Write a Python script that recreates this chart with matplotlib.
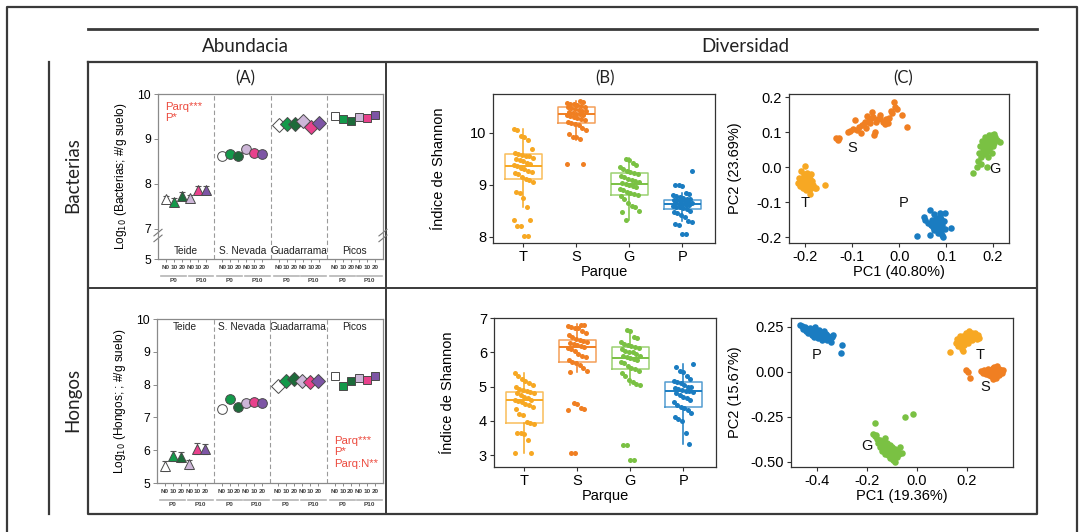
import matplotlib
matplotlib.use('Agg')
import matplotlib.pyplot as plt
import matplotlib.transforms as mtransforms

plt.rcParams['font.family'] = ['Liberation Sans', 'DejaVu Sans']

# ---------------- DATA ----------------
sites = ['Teide', 'S. Nevada', 'Guadarrama', 'Picos']
treat_labels = ['N0', '10', '20', 'N0', '10', '20']
p_labels = ['P0', 'P10']
treat_colors = ['#ffffff', '#139a4a', '#1d6b3a', '#cdb6d8', '#e8418c', '#7d55a5']
site_markers = ['^', 'o', 'D', 's']

bact_teide = [7.66, 7.60, 7.74, 7.68, 7.86, 7.87]
bact_snev = [8.63, 8.66, 8.62, 8.77, 8.68, 8.67]
bact_guad = [9.32, 9.34, 9.34, 9.40, 9.27, 9.35]
bact_picos = [9.51, 9.44, 9.41, 9.49, 9.47, 9.53]
bact_teide_err = [0.08, 0.08, 0.07, 0.07, 0.09, 0.09]

hong_teide = [5.51, 5.83, 5.78, 5.57, 6.05, 6.03]
hong_snev = [7.26, 7.56, 7.31, 7.43, 7.47, 7.43]
hong_guad = [7.97, 8.11, 8.16, 8.11, 8.08, 8.11]
hong_picos = [8.26, 7.97, 8.10, 8.19, 8.15, 8.26]
hong_teide_err = [0.15, 0.15, 0.15, 0.13, 0.16, 0.16]

parques = ['T', 'S', 'G', 'P']
parque_colors = ['#f7a823', '#f07f22', '#7ac143', '#1a7cc1']

# Shannon (bacteria)
sh_b_T = [10.07, 10.06, 9.95, 9.93, 9.87, 9.70, 9.62, 9.60, 9.58, 9.56, 9.55, 9.52, 9.50, 9.48, 9.45,
          9.42, 9.40, 9.38, 9.36, 9.33, 9.30, 9.27, 9.25, 9.22, 9.20, 9.15, 9.12, 9.10, 9.05, 8.87,
          8.85, 8.74, 8.58, 8.33, 8.32, 8.20, 8.20, 8.02, 8.01]
sh_b_S = [10.62, 10.60, 10.58, 10.56, 10.55, 10.53, 10.52, 10.50, 10.49, 10.48, 10.46, 10.45, 10.43,
          10.42, 10.40, 10.38, 10.37, 10.36, 10.35, 10.34, 10.32, 10.30, 10.28, 10.26, 10.25, 10.22,
          10.20, 10.18, 10.15, 10.10, 10.05, 9.98, 9.93, 9.92, 9.88, 9.41, 9.41]
sh_b_G = [9.50, 9.47, 9.42, 9.38, 9.35, 9.30, 9.27, 9.25, 9.22, 9.20, 9.18, 9.15, 9.12, 9.10, 9.07,
          9.05, 9.03, 9.01, 9.00, 8.98, 8.95, 8.92, 8.90, 8.87, 8.85, 8.82, 8.80, 8.78, 8.72, 8.65,
          8.60, 8.57, 8.50, 8.47, 8.33]
sh_b_P = [9.27, 9.00, 8.99, 8.98, 8.85, 8.82, 8.80, 8.78, 8.76, 8.75, 8.73, 8.72, 8.71, 8.70, 8.69,
          8.68, 8.67, 8.66, 8.65, 8.64, 8.63, 8.62, 8.61, 8.60, 8.58, 8.57, 8.55, 8.53, 8.50, 8.47,
          8.45, 8.42, 8.38, 8.30, 8.28, 8.25, 8.22, 8.05, 8.05]
# box stats: q1, median, q3, whisker low, whisker high
box_b_q1 = [9.11, 10.20, 8.81, 8.53]
box_b_med = [9.37, 10.37, 9.01, 8.63]
box_b_q3 = [9.59, 10.49, 9.22, 8.71]
box_b_lo = [8.58, 9.87, 8.32, 8.30]
box_b_hi = [10.07, 10.62, 9.52, 8.85]

# Shannon (fungi)
sh_h_T = [5.38, 5.30, 5.22, 5.15, 5.10, 5.05, 4.98, 4.92, 4.90, 4.88, 4.85, 4.82, 4.80, 4.75, 4.70,
          4.65, 4.62, 4.60, 4.58, 4.55, 4.50, 4.45, 4.40, 4.35, 4.20, 4.18, 3.95, 3.92, 3.90, 3.65,
          3.63, 3.60, 3.45, 3.05, 3.05]
sh_h_S = [6.80, 6.80, 6.78, 6.75, 6.72, 6.70, 6.62, 6.55, 6.50, 6.45, 6.38, 6.35, 6.32, 6.30, 6.28,
          6.25, 6.20, 6.18, 6.15, 6.12, 6.10, 6.05, 5.95, 5.90, 5.85, 5.78, 5.72, 5.70, 5.62, 5.55,
          5.45, 5.42, 4.52, 4.50, 4.38, 4.33, 4.30, 3.06, 3.06]
sh_h_G = [6.65, 6.62, 6.45, 6.42, 6.30, 6.25, 6.22, 6.18, 6.15, 6.12, 6.10, 6.05, 6.02, 6.00, 5.95,
          5.90, 5.88, 5.85, 5.83, 5.80, 5.78, 5.72, 5.68, 5.60, 5.55, 5.50, 5.45, 5.40, 5.30, 5.20,
          5.12, 5.08, 5.05, 3.30, 3.30, 2.84, 2.84]
sh_h_P = [5.65, 5.58, 5.45, 5.42, 5.30, 5.22, 5.15, 5.12, 5.10, 5.05, 5.00, 4.98, 4.95, 4.92, 4.90,
          4.88, 4.86, 4.84, 4.80, 4.75, 4.70, 4.65, 4.60, 4.55, 4.45, 4.40, 4.38, 4.30, 4.22, 4.10,
          4.05, 4.00, 3.65, 3.33]
box_h_q1 = [3.94, 5.72, 5.52, 4.40]
box_h_med = [4.62, 6.15, 5.83, 4.86]
box_h_q3 = [4.85, 6.37, 6.14, 5.14]
box_h_lo = [3.06, 5.42, 5.05, 3.33]
box_h_hi = [5.38, 6.82, 6.63, 5.65]

# PCA (bacteria)
pcb_T_x = [-0.215, -0.213, -0.212, -0.210, -0.209, -0.207, -0.206, -0.205, -0.204, -0.203, -0.202,
           -0.201, -0.200, -0.200, -0.199, -0.198, -0.197, -0.196, -0.195, -0.194, -0.193, -0.192,
           -0.191, -0.190, -0.189, -0.188, -0.186, -0.185, -0.183, -0.180, -0.178, -0.190, -0.158]
pcb_T_y = [-0.045, -0.030, -0.055, -0.040, -0.012, -0.050, -0.035, -0.060, -0.025, -0.045, -0.020,
           -0.052, 0.003, -0.038, -0.065, -0.030, -0.048, -0.015, -0.042, -0.058, -0.025, -0.050,
           -0.035, -0.062, -0.045, -0.020, -0.055, -0.040, -0.050, -0.060, -0.058, -0.076, -0.050]
pcb_S_x = [-0.134, -0.130, -0.128, -0.110, -0.105, -0.098, -0.095, -0.090, -0.086, -0.082, -0.080,
           -0.076, -0.072, -0.070, -0.068, -0.065, -0.062, -0.060, -0.058, -0.055, -0.053, -0.052,
           -0.050, -0.046, -0.042, -0.040, -0.035, -0.030, -0.028, -0.025, -0.022, -0.018, -0.015,
           -0.012, -0.008, -0.005, 0.006, 0.016]
pcb_S_y = [0.083, 0.078, 0.085, 0.100, 0.103, 0.110, 0.136, 0.108, 0.115, 0.098, 0.120, 0.125, 0.130,
           0.112, 0.148, 0.135, 0.128, 0.140, 0.158, 0.145, 0.092, 0.100, 0.130, 0.138, 0.142, 0.150,
           0.130, 0.125, 0.138, 0.128, 0.140, 0.162, 0.155, 0.188, 0.172, 0.168, 0.150, 0.116]
pcb_G_x = [0.158, 0.165, 0.168, 0.170, 0.172, 0.174, 0.176, 0.178, 0.180, 0.181, 0.183, 0.184, 0.186,
           0.187, 0.188, 0.189, 0.190, 0.191, 0.192, 0.193, 0.194, 0.195, 0.196, 0.197, 0.198, 0.199,
           0.200, 0.201, 0.202, 0.203, 0.205, 0.208, 0.215, 0.187, 0.175]
pcb_G_y = [-0.017, 0.000, 0.018, 0.040, 0.060, 0.030, 0.075, 0.050, 0.038, 0.065, 0.088, 0.045, 0.070,
           0.055, 0.080, 0.030, 0.062, 0.092, 0.048, 0.075, 0.058, 0.085, 0.068, 0.040, 0.092, 0.078,
           0.060, 0.095, 0.082, 0.070, 0.088, 0.078, 0.072, 0.000, 0.008]
pcb_P_x = [0.037, 0.052, 0.055, 0.062, 0.065, 0.066, 0.068, 0.070, 0.072, 0.074, 0.075, 0.076, 0.078,
           0.079, 0.080, 0.081, 0.082, 0.083, 0.084, 0.085, 0.086, 0.087, 0.088, 0.089, 0.090, 0.091,
           0.092, 0.093, 0.095, 0.097, 0.098, 0.110, 0.087]
pcb_P_y = [-0.197, -0.143, -0.150, -0.160, -0.122, -0.195, -0.165, -0.150, -0.170, -0.135, -0.180,
           -0.158, -0.165, -0.145, -0.172, -0.155, -0.188, -0.162, -0.150, -0.175, -0.140, -0.168,
           -0.158, -0.182, -0.148, -0.195, -0.165, -0.200, -0.155, -0.130, -0.178, -0.173, -0.130]

# PCA (fungi)
pch_P_x = [-0.470, -0.462, -0.455, -0.450, -0.445, -0.440, -0.435, -0.430, -0.425, -0.420, -0.415,
           -0.412, -0.408, -0.405, -0.400, -0.398, -0.395, -0.392, -0.388, -0.385, -0.380, -0.375,
           -0.372, -0.368, -0.365, -0.360, -0.355, -0.350, -0.345, -0.340, -0.335, -0.300, -0.305]
pch_P_y = [0.262, 0.255, 0.240, 0.250, 0.225, 0.238, 0.215, 0.245, 0.228, 0.205, 0.232, 0.195, 0.252,
           0.218, 0.225, 0.188, 0.208, 0.232, 0.198, 0.215, 0.180, 0.205, 0.225, 0.190, 0.210, 0.178,
           0.198, 0.185, 0.168, 0.195, 0.205, 0.150, 0.105]
pch_T_x = [0.133, 0.155, 0.160, 0.165, 0.168, 0.172, 0.175, 0.178, 0.180, 0.182, 0.185, 0.188, 0.190,
           0.193, 0.196, 0.198, 0.200, 0.203, 0.206, 0.208, 0.210, 0.213, 0.216, 0.219, 0.222, 0.225,
           0.228, 0.232, 0.236, 0.240, 0.245, 0.250, 0.185]
pch_T_y = [0.113, 0.160, 0.185, 0.145, 0.170, 0.198, 0.155, 0.180, 0.125, 0.165, 0.200, 0.175, 0.150,
           0.190, 0.168, 0.215, 0.182, 0.195, 0.160, 0.205, 0.225, 0.185, 0.198, 0.215, 0.178, 0.205,
           0.192, 0.218, 0.200, 0.185, 0.205, 0.190, 0.118]
pch_S_x = [0.197, 0.205, 0.212, 0.258, 0.265, 0.270, 0.275, 0.280, 0.285, 0.288, 0.292, 0.295, 0.298,
           0.300, 0.303, 0.306, 0.308, 0.310, 0.312, 0.315, 0.318, 0.320, 0.322, 0.325, 0.328, 0.330,
           0.333, 0.336, 0.340, 0.345, 0.305, 0.318]
pch_S_y = [0.012, -0.002, -0.032, 0.005, -0.005, 0.010, -0.010, 0.002, 0.015, -0.015, 0.005, -0.025,
           0.012, -0.005, 0.020, -0.012, 0.008, 0.025, -0.020, 0.000, 0.015, -0.008, 0.030, 0.005,
           -0.015, 0.018, 0.000, 0.010, -0.005, 0.008, -0.040, -0.035]
pch_G_x = [-0.168, -0.175, -0.170, -0.165, -0.160, -0.155, -0.150, -0.148, -0.145, -0.140, -0.138,
           -0.135, -0.130, -0.128, -0.125, -0.122, -0.120, -0.118, -0.115, -0.112, -0.110, -0.108,
           -0.105, -0.102, -0.100, -0.098, -0.095, -0.092, -0.090, -0.088, -0.085, -0.080, -0.075,
           -0.072, -0.068, -0.062, -0.048, -0.017]
pch_G_y = [-0.285, -0.345, -0.360, -0.350, -0.375, -0.395, -0.380, -0.420, -0.405, -0.440, -0.390,
           -0.425, -0.455, -0.370, -0.410, -0.440, -0.395, -0.465, -0.425, -0.450, -0.480, -0.405,
           -0.435, -0.460, -0.420, -0.490, -0.445, -0.470, -0.500, -0.430, -0.455, -0.475, -0.440,
           -0.460, -0.420, -0.450, -0.253, -0.235]

# ---------------- FIGURE ----------------
W, H = 1080, 532
fig = plt.figure(figsize=(10.8, 5.32), dpi=100)


def ax_px(l, t, r, b):
    return fig.add_axes([l / W, 1 - b / H, (r - l) / W, (b - t) / H])


# overlay for frame lines
ov = fig.add_axes([0, 0, 1, 1], zorder=-1)
ov.set_xlim(0, W)
ov.set_ylim(H, 0)
ov.axis('off')
lc = '#3a3a3a'
ov.plot([7, 7, 1077, 1077], [532, 7, 7, 532], color=lc, lw=1.6)
ov.plot([88, 1037], [29, 29], color=lc, lw=2.0)
ov.plot([88, 1037, 1037, 88, 88], [62, 62, 514, 514, 62], color=lc, lw=1.6)
ov.plot([386, 386], [62, 514], color=lc, lw=1.4)
ov.plot([88, 1037], [288, 288], color=lc, lw=1.4)
ov.plot([49, 49], [62, 514], color=lc, lw=1.6)

head_font = ['Lato', 'DejaVu Sans']
fig.text(245 / W, 1 - 46 / H, 'Abundacia', ha='center', va='center', fontsize=13.5,
         family=head_font, color='#222222')
fig.text(745 / W, 1 - 46 / H, 'Diversidad', ha='center', va='center', fontsize=13.5,
         family=head_font, color='#222222')
fig.text(73 / W, 1 - 175 / H, 'Bacterias', ha='center', va='center', fontsize=13.5,
         rotation=90, family=head_font, color='#222222')
fig.text(73 / W, 1 - 400 / H, 'Hongos', ha='center', va='center', fontsize=13.5,
         rotation=90, family=head_font, color='#222222')
for lbl, xc in [('(A)', 245), ('(B)', 605), ('(C)', 903)]:
    fig.text(xc / W, 1 - 78 / H, lbl, ha='center', va='center', fontsize=12,
             family=head_font, color='#222222')

red = '#ec4b3f'
grey_sp = '#8a8a8a'


def offset(ax, dy_px):
    return ax.get_xaxis_transform() + mtransforms.ScaledTranslation(0, -dy_px / 100.0,
                                                                    fig.dpi_scale_trans)


def abundance_panel(ax, vals, err, ylabel, ylim, yticks, yticklabels, site_label_y,
                    site_va, red_text, red_xy, red_ha, broken):
    xs_all = []
    for i in range(4):
        for j in range(6):
            x = 7 * i + 1 + j
            xs_all.append(x)
            e = err[i][j]
            if e > 0:
                ax.errorbar(x, vals[i][j], yerr=e, fmt='none', ecolor='#555555',
                            elinewidth=0.8, capsize=2.2, capthick=0.8, zorder=2)
            ms = 6.8 if site_markers[i] in ('^', 'D') else 7
            if site_markers[i] == 's':
                ms = 6.3
            ax.plot(x, vals[i][j], marker=site_markers[i], ms=ms, mfc=treat_colors[j],
                    mec='#4a4a4a', mew=0.7, ls='none', zorder=3)
    for xd in [7, 14, 21]:
        ax.axvline(xd, color='#9a9a9a', lw=0.8, ls=(0, (4, 2.5)), zorder=1)
    ax.set_xlim(0, 28)
    ax.set_ylim(*ylim)
    ax.set_yticks(yticks)
    ax.set_yticklabels(yticklabels, fontsize=8.8)
    ax.set_xticks(xs_all)
    ax.set_xticklabels(treat_labels * 4, fontsize=4.6, color='#444444', fontweight='bold')
    ax.tick_params(axis='x', length=2, width=0.6, pad=2, color='#777777')
    ax.tick_params(axis='y', length=3, width=0.6, pad=2, color='#777777')
    for s in ax.spines.values():
        s.set_color(grey_sp)
        s.set_linewidth(0.9)
    ax.set_ylabel(ylabel, fontsize=8.6, labelpad=6)
    for i in range(4):
        ax.text(7 * i + 3.5, site_label_y, sites[i], transform=ax.get_xaxis_transform(),
                ha='center', va=site_va, fontsize=7.3, color='#222222')
        for k in range(2):
            x0 = 7 * i + 0.4 + 3.4 * k
            ax.plot([x0, x0 + 3.1], [0, 0], transform=offset(ax, 16.5), color='#b5b5b5',
                    lw=1.2, clip_on=False)
            ax.text(x0 + 1.55, 0, p_labels[k], transform=offset(ax, 18.5), ha='center',
                    va='top', fontsize=4.6, color='#444444', fontweight='bold')
    ax.text(red_xy[0], red_xy[1], red_text, transform=ax.transAxes, ha=red_ha, va='top',
            fontsize=8.2, color=red, linespacing=1.15)
    if broken:
        for xa in (0, 1):
            for dy in (0.0, 0.035):
                ax.plot([xa - 0.018, xa + 0.018], [0.105 + dy, 0.145 + dy],
                        transform=ax.transAxes, color='#777777', lw=0.8, clip_on=False)


axA1 = ax_px(158, 94, 383, 259)
abundance_panel(axA1, [bact_teide, bact_snev, bact_guad, bact_picos],
                [bact_teide_err, [0] * 6, [0] * 6, [0] * 6],
                r'Log$_{10}$ (Bacterias; #/g suelo)', (6.33, 10.0),
                [6.33, 7, 8, 9, 10], ['5', '7', '8', '9', '10'], 0.05, 'center',
                'Parq***\nP*', (0.03, 0.95), 'left', True)

axA2 = ax_px(157, 319, 383, 483)
abundance_panel(axA2, [hong_teide, hong_snev, hong_guad, hong_picos],
                [hong_teide_err, [0] * 6, [0] * 6, [0] * 6],
                r'Log$_{10}$ (Hongos; ; #/g suelo)', (5.0, 10.0),
                [5, 6, 7, 8, 9, 10], ['5', '6', '7', '8', '9', '10'], 0.95, 'center',
                'Parq***\nP*\nParq:N**', (0.785, 0.285), 'left', False)


def jitter(n, k):
    return [(((i * 37 + k * 11) % 17) / 16.0 - 0.5) * 0.36 for i in range(n)]


def shannon_panel(ax, groups, q1, med, q3, lo, hi, ylim, yticks):
    stats = []
    for g in range(4):
        stats.append(dict(med=med[g], q1=q1[g], q3=q3[g], whislo=lo[g], whishi=hi[g],
                          fliers=[]))
    bp = ax.bxp(stats, positions=range(4), widths=0.7, showfliers=False, showcaps=False,
                patch_artist=False)
    for g in range(4):
        c = parque_colors[g]
        bp['boxes'][g].set(color=c, lw=1.1, alpha=0.75)
        bp['medians'][g].set(color=c, lw=1.4)
        for w in bp['whiskers'][2 * g:2 * g + 2]:
            w.set(color=c, lw=1.1)
        vals = groups[g]
        jx = jitter(len(vals), g)
        ax.scatter([g + d for d in jx], vals, s=13, color=c, zorder=3, linewidths=0)
    ax.set_xlim(-0.57, 3.62)
    ax.set_ylim(*ylim)
    ax.set_yticks(yticks)
    ax.set_xticks(range(4))
    ax.set_xticklabels(parques)
    ax.tick_params(labelsize=10.5, length=3, width=0.8, pad=2, color='#333333')
    for s in ax.spines.values():
        s.set_color('#333333')
        s.set_linewidth(0.9)
    ax.set_xlabel('Parque', fontsize=10.5, labelpad=1)
    ax.set_ylabel('Índice de Shannon', fontsize=10.5, labelpad=17)


axB1 = ax_px(493, 94, 715, 243)
shannon_panel(axB1, [sh_b_T, sh_b_S, sh_b_G, sh_b_P], box_b_q1, box_b_med, box_b_q3,
              box_b_lo, box_b_hi, (7.88, 10.75), [8, 9, 10])
axB2 = ax_px(494, 318, 716, 467)
shannon_panel(axB2, [sh_h_T, sh_h_S, sh_h_G, sh_h_P], box_h_q1, box_h_med, box_h_q3,
              box_h_lo, box_h_hi, (2.65, 7.0), [3, 4, 5, 6, 7])


def pca_panel(ax, xs, ys, lab_xy, xlim, ylim, xticks, yticks, xfmt, yfmt, xlabel, ylabel,
              ylpad):
    for g in range(4):
        ax.scatter(xs[g], ys[g], s=22, color=parque_colors[g], linewidths=0, zorder=3)
        ax.text(lab_xy[g][0], lab_xy[g][1], parques[g], ha='center', va='center',
                fontsize=10.5, color='#111111')
    ax.set_xlim(*xlim)
    ax.set_ylim(*ylim)
    ax.set_xticks(xticks)
    ax.set_yticks(yticks)
    ax.set_xticklabels([xfmt.format(v) for v in xticks])
    ax.set_yticklabels([yfmt.format(v) for v in yticks])
    ax.tick_params(labelsize=10.5, length=3, width=0.8, pad=2, color='#333333')
    for s in ax.spines.values():
        s.set_color('#333333')
        s.set_linewidth(0.9)
    ax.set_xlabel(xlabel, fontsize=10.5, labelpad=1)
    ax.set_ylabel(ylabel, fontsize=10.5, labelpad=ylpad)


axC1 = ax_px(789, 94, 1009, 243)
pca_panel(axC1, [pcb_T_x, pcb_S_x, pcb_G_x, pcb_P_x], [pcb_T_y, pcb_S_y, pcb_G_y, pcb_P_y],
          [(-0.2, -0.103), (-0.101, 0.054), (0.205, -0.004), (0.01, -0.103)],
          (-0.235, 0.234), (-0.217, 0.21), [-0.2, -0.1, 0.0, 0.1, 0.2],
          [-0.2, -0.1, 0.0, 0.1, 0.2], '{:.1f}', '{:.1f}', 'PC1 (40.80%)', 'PC2 (23.69%)', 11)
axC2 = ax_px(791, 318, 1013, 467)
pca_panel(axC2, [pch_T_x, pch_S_x, pch_G_x, pch_P_x], [pch_T_y, pch_S_y, pch_G_y, pch_P_y],
          [(0.252, 0.094), (0.272, -0.083), (-0.201, -0.411), (-0.404, 0.094)],
          (-0.505, 0.385), (-0.53, 0.30), [-0.4, -0.2, 0.0, 0.2],
          [-0.5, -0.25, 0.0, 0.25], '{:.1f}', '{:.2f}', 'PC1 (19.36%)', 'PC2 (15.67%)', 6)

fig.savefig('out.png', dpi=100)
